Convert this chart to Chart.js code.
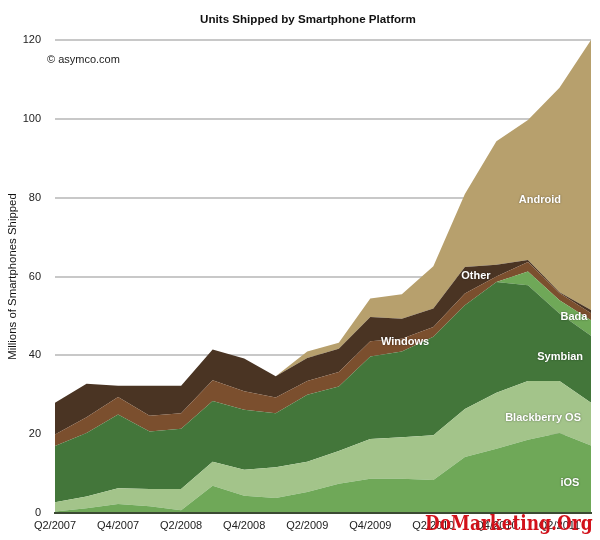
<!DOCTYPE html>
<html>
<head>
<meta charset="utf-8">
<title>Units Shipped by Smartphone Platform</title>
<script src="https://cdn.jsdelivr.net/npm/chart.js@4"></script>
<style>
  html, body { margin: 0; padding: 0; background: #fff; }
  #grafico { display: block; }
</style>
</head>
<body>
<canvas id="grafico" width="600" height="540"></canvas>
<script>
const quarters = ["Q2/2007","Q3/2007","Q4/2007","Q1/2008","Q2/2008","Q3/2008","Q4/2008","Q1/2009","Q2/2009",
                  "Q3/2009","Q4/2009","Q1/2010","Q2/2010","Q3/2010","Q4/2010","Q1/2011","Q2/2011","Q3/2011"];

// millions of units per quarter
const ios        = [0.4,1.2,2.3,1.7,0.7,6.9,4.4,3.8,5.3,7.4,8.7,8.7,8.4,14.2,16.3,18.6,20.3,17.1];
const blackberry = [2.3,3.0,4.0,4.4,5.4,6.1,6.6,7.8,7.7,8.3,10.1,10.5,11.3,12.2,14.2,14.9,13.2,10.9];
const symbian    = [14.3,16.1,18.7,14.6,15.3,15.4,15.2,13.7,17.0,16.4,20.9,21.8,25.0,26.3,28.1,24.3,17.1,17.0];
const bada       = [0,0,0,0,0,0,0,0,0,0,0,0,0,0,0,3.5,3.4,3.9];
const windows    = [2.9,4.0,4.4,4.0,3.9,5.3,4.7,4.0,3.5,3.7,3.9,3.2,2.5,3.0,1.4,2.4,1.8,1.8];
const other      = [8.1,8.5,2.9,7.6,7.0,7.8,8.3,5.4,5.8,5.9,6.1,5.1,4.7,6.7,3.0,0.5,0.2,0.8];
const android    = [0,0,0,0,0,0,0,0,1.7,1.5,4.7,6.2,10.7,18.5,31.3,35.5,51.9,68.5];

const yTicks = [0,20,40,60,80,100,120];

const fuente = '"Liberation Sans", Arial, sans-serif';

// names written on the areas, x = quarter index, y = millions
const etiquetas = [
    { text: "Android", x: 15.38, y: 79.4 },
    { text: "Other", x: 13.35, y: 60.2 },
    { text: "Bada", x: 16.46, y: 49.7 },
    { text: "Symbian", x: 16.02, y: 39.6 },
    { text: "Blackberry OS", x: 15.48, y: 24.1 },
    { text: "iOS", x: 16.33, y: 7.6 },
    { text: "Windows", x: 11.1, y: 43.4 }
];

const textos = {
    id: 'textos',
    afterDatasetsDraw(chart) {
        const { ctx, scales } = chart;
        ctx.save();
        ctx.textBaseline = 'middle';

        ctx.textAlign = 'center';
        ctx.fillStyle = '#111';
        ctx.font = 'bold 11.6px ' + fuente;
        ctx.fillText("Units Shipped by Smartphone Platform", 308, 19.5);

        ctx.textAlign = 'left';
        ctx.fillStyle = '#222';
        ctx.font = '11px ' + fuente;
        ctx.fillText("© asymco.com", 47, 60);

        ctx.textAlign = 'center';
        ctx.font = 'bold 11px ' + fuente;
        etiquetas.forEach(e => {
            ctx.shadowColor = 'rgba(0,0,0,0.45)';
            ctx.shadowBlur = 2;
            ctx.fillStyle = '#fff';
            ctx.fillText(e.text, scales.x.getPixelForValue(e.x), scales.y.getPixelForValue(e.y));
        });
        ctx.shadowBlur = 0;
        ctx.shadowColor = 'transparent';

        // watermark over the last tick labels
        ctx.textAlign = 'left';
        ctx.textBaseline = 'alphabetic';
        ctx.fillStyle = '#d2111a';
        ctx.font = 'bold 17px "DejaVu Serif", serif';
        ctx.translate(425, 530);
        ctx.scale(1, 1.2);
        ctx.fillText("DoMarketing.Org", 0, 0);
        ctx.restore();
    }
};

const area = (label, data, color, fill) => ({
    label, data, fill,
    backgroundColor: color,
    borderWidth: 0,
    pointRadius: 0,
    tension: 0
});

new Chart(document.getElementById('grafico'), {
    type: 'line',
    data: {
        labels: quarters,
        datasets: [
            area('iOS', ios, '#6fa858', 'origin'),
            area('Blackberry OS', blackberry, '#a3c48a', '-1'),
            area('Symbian', symbian, '#43763a', '-1'),
            area('Bada', bada, '#6fa858', '-1'),
            area('Windows', windows, '#7b4f2e', '-1'),
            area('Other', other, '#4a3423', '-1'),
            area('Android', android, '#b7a06d', '-1')
        ]
    },
    options: {
        responsive: false,
        animation: false,
        layout: { padding: { top: 40, right: 9, bottom: 0, left: 0 } },
        plugins: { legend: { display: false }, tooltip: { enabled: false } },
        scales: {
            x: {
                grid: { display: false, drawTicks: false },
                border: { display: true, color: '#3b4a33', width: 2, z: 2 },
                ticks: {
                    color: '#222',
                    font: { family: fuente, size: 11 },
                    autoSkip: false,
                    maxRotation: 0,
                    padding: 6,
                    callback: (v, i) => i % 2 === 0 ? quarters[i] : ''
                },
                afterFit: s => { s.height = 27; }
            },
            y: {
                stacked: true,
                min: 0,
                max: 120,
                afterBuildTicks: s => { s.ticks = yTicks.map(value => ({ value })); },
                grid: { color: '#c8c8c8', lineWidth: 2, drawTicks: false },
                border: { display: false },
                ticks: {
                    color: '#222',
                    font: { family: fuente, size: 11 },
                    padding: 14
                },
                title: {
                    display: true,
                    text: 'Millions of Smartphones Shipped',
                    color: '#111',
                    font: { family: fuente, size: 11.4 },
                    padding: { top: 6, bottom: 0 }
                },
                afterFit: s => { s.width = 55; }
            }
        }
    },
    plugins: [textos]
});
</script>
</body>
</html>
